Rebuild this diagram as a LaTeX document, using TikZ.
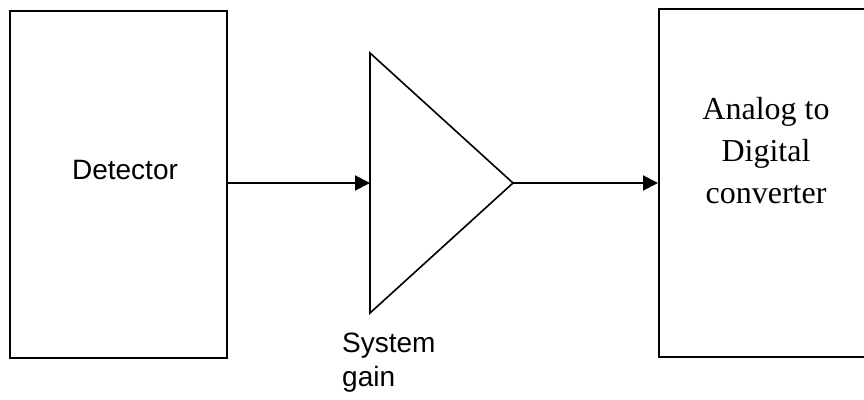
\documentclass[tikz,border=0pt]{standalone}
\usepackage{fontspec}
\setmainfont{Liberation Serif}
\setsansfont{Liberation Sans}
\usetikzlibrary{arrows.meta}
\tikzset{
  blockbox/.style={draw=black, line width=2pt, rectangle, inner sep=0pt, anchor=north west},
  conn/.style={line width=2pt, -{Triangle[length=15pt,width=15pt]}},
  sanslabel/.style={font=\sffamily\fontsize{28}{34}\selectfont, inner sep=0pt},
  seriflabel/.style={font=\rmfamily\fontsize{32}{42}\selectfont, inner sep=0pt, align=center}
}
\begin{document}
\begin{tikzpicture}[x=1pt,y=-1pt]
  \useasboundingbox (0,0) rectangle (864,399);
  \clip (0,0) rectangle (864,399);
  % left block
  \node[blockbox, minimum width=217pt, minimum height=347pt] (det) at (9,10) {};
  \node[sanslabel, anchor=base] (detlabel) at (125,179) {Detector};
  % right block
  \node[blockbox, minimum width=216pt, minimum height=348pt] (adc) at (658,8) {};
  \node[seriflabel, anchor=base] (adclabel) at (766,203) {Analog to\\Digital\\converter};
  % amplifier triangle
  \coordinate (tritop) at (370,53);
  \coordinate (tribot) at (370,313);
  \coordinate (tritip) at (513,183);
  \coordinate (triin) at (370,183);
  \draw[line width=1.6pt, line join=miter] (tritop) -- (tritip) -- (tribot) -- cycle;
  \node[sanslabel, anchor=base west, align=left] (gain) at (342,386) {System\\gain};
  % connectors
  \draw[conn] (det.east |- triin) -- (triin);
  \draw[conn] (tritip) -- (tritip -| adc.west);
\end{tikzpicture}
\end{document}
